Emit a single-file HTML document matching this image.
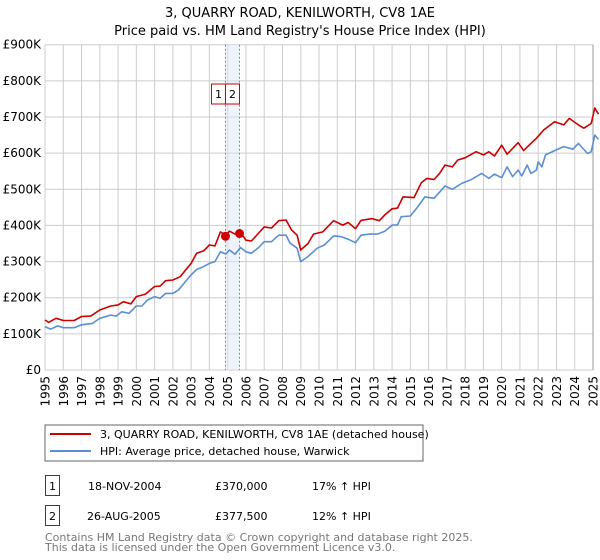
<!DOCTYPE html>
<html><head><meta charset="utf-8"><style>
body{margin:0;background:#fff;font-family:"DejaVu Sans","Liberation Sans",sans-serif;}
svg{display:block}
</style></head><body>
<svg id="c" width="600" height="560" xmlns="http://www.w3.org/2000/svg" font-family="DejaVu Sans, Liberation Sans, sans-serif">
<text x="300" y="17" text-anchor="middle" font-size="13">3, QUARRY ROAD, KENILWORTH, CV8 1AE</text>
<text x="300" y="35" text-anchor="middle" font-size="13">Price paid vs. HM Land Registry's House Price Index (HPI)</text>
<g id="grid"></g>
<g id="plot"></g>
<rect x="45" y="425" width="378" height="36" fill="#fff" stroke="#666"/>
<line x1="50" y1="434" x2="91" y2="434" stroke="#cc0000" stroke-width="2"/>
<text x="100" y="438" font-size="11">3, QUARRY ROAD, KENILWORTH, CV8 1AE (detached house)</text>
<line x1="50" y1="451" x2="91" y2="451" stroke="#5b8fd4" stroke-width="2"/>
<text x="100" y="455" font-size="11">HPI: Average price, detached house, Warwick</text>
<g font-size="11">
<rect x="45.5" y="475.5" width="14" height="20" fill="none" stroke="#cc0000"/>
<text x="52.5" y="490" text-anchor="middle">1</text>
<text x="88" y="490">18-NOV-2004</text><text x="215" y="490">£370,000</text><text x="312" y="490">17% ↑ HPI</text>
<rect x="45.5" y="505.5" width="14" height="20" fill="none" stroke="#cc0000"/>
<text x="52.5" y="520" text-anchor="middle">2</text>
<text x="87" y="520">26-AUG-2005</text><text x="215" y="520">£377,500</text><text x="312" y="520">12% ↑ HPI</text>
</g>
<text x="45" y="541" font-size="11" fill="#777">Contains HM Land Registry data © Crown copyright and database right 2025.</text>
<text x="45" y="551" font-size="11" fill="#777">This data is licensed under the Open Government Licence v3.0.</text>
</svg>
<script>
const yTicks=[0,100,200,300,400,500,600,700,800,900];
const yTickLabels=["£0","£100K","£200K","£300K","£400K","£500K","£600K","£700K","£800K","£900K"];
const xYears=[1995,1996,1997,1998,1999,2000,2001,2002,2003,2004,2005,2006,2007,2008,2009,2010,2011,2012,2013,2014,2015,2016,2017,2018,2019,2020,2021,2022,2023,2024,2025];
const hpiT=[1995.0,1995.3,1995.7,1996.0,1996.6,1997.0,1997.6,1998.0,1998.6,1998.9,1999.2,1999.6,2000.0,2000.3,2000.6,2001.0,2001.3,2001.6,2002.0,2002.3,2002.6,2003.0,2003.3,2003.6,2004.0,2004.3,2004.6,2004.9,2005.1,2005.4,2005.7,2006.0,2006.3,2006.7,2007.0,2007.4,2007.8,2008.2,2008.4,2008.8,2009.0,2009.4,2009.9,2010.3,2010.8,2011.2,2011.6,2012.0,2012.3,2012.8,2013.2,2013.6,2014.0,2014.3,2014.5,2015.0,2015.4,2015.8,2016.3,2016.9,2017.3,2017.8,2018.3,2018.9,2019.3,2019.6,2020.0,2020.3,2020.6,2020.9,2021.1,2021.4,2021.6,2021.9,2022.0,2022.2,2022.4,2022.9,2023.4,2023.9,2024.2,2024.7,2024.9,2025.1,2025.3];
const hpiV=[120,113,122,117,117,125,129,143,152,149,161,157,177,177,193,203,198,212,212,221,239,263,278,284,295,300,327,321,332,320,339,327,323,339,355,355,373,373,352,337,300,314,337,346,371,369,362,352,373,376,376,384,401,401,424,426,451,479,475,509,500,516,526,544,530,542,532,562,535,553,537,567,544,553,576,562,595,607,618,611,627,599,604,650,638];
const propT=[1995.0,1995.2,1995.6,1996.0,1996.6,1997.0,1997.5,1998.0,1998.6,1999.0,1999.3,1999.7,2000.0,2000.5,2001.0,2001.3,2001.6,2002.0,2002.4,2002.7,2003.0,2003.3,2003.7,2004.0,2004.3,2004.6,2004.9,2005.1,2005.4,2005.7,2006.0,2006.3,2006.7,2007.0,2007.4,2007.8,2008.2,2008.5,2008.8,2009.0,2009.4,2009.7,2010.2,2010.8,2011.3,2011.6,2012.0,2012.3,2012.9,2013.3,2013.6,2014.0,2014.3,2014.6,2015.2,2015.6,2015.9,2016.3,2016.6,2016.9,2017.3,2017.6,2018.0,2018.6,2019.0,2019.3,2019.6,2020.0,2020.3,2020.9,2021.2,2021.6,2021.9,2022.3,2022.9,2023.4,2023.7,2024.2,2024.5,2024.9,2025.1,2025.3];
const propV=[138,132,143,137,137,148,149,166,177,180,189,183,203,210,231,232,247,249,258,277,295,323,330,346,343,382,373,384,376,382,359,357,379,396,393,413,415,387,373,332,350,376,382,413,401,408,391,414,419,413,429,446,448,479,477,518,530,527,544,567,562,581,587,604,595,604,592,622,597,629,607,627,641,664,687,678,696,678,669,682,725,708];
const saleT=[2004.88,2005.65];
const saleV=[370,377.5];
const saleLabels=["1","2"];

const NS="http://www.w3.org/2000/svg";
const X0=45,X1=593,Y0=370,Y1=44.7;
const xs=t=>X0+(t-1995)/30*(X1-X0);
const ys=v=>Y0-v/900*(Y0-Y1);
function mk(tag,attrs,parent){const e=document.createElementNS(NS,tag);for(const k in attrs)e.setAttribute(k,attrs[k]);parent.appendChild(e);return e;}
const grid=document.getElementById('grid'),plot=document.getElementById('plot');
yTicks.forEach((v,i)=>{
  const l=mk('line',{x1:X0,x2:X1,y1:ys(v),y2:ys(v),stroke:'#ccc'},grid);
  
  
  const t=mk('text',{x:X0-4,y:ys(v)+4,'text-anchor':'end','font-size':'12'},grid);
  t.textContent=yTickLabels[i];
  
  
});
xYears.forEach(y=>{
  const l=mk('line',{x1:xs(y),x2:xs(y),y1:Y1,y2:Y0,stroke:'#ccc'},grid);
  
  
  const t=mk('text',{x:0,y:0,'text-anchor':'end','font-size':'12',transform:`translate(${xs(y)+4.5},${Y0+6}) rotate(-90)`},grid);
  t.textContent=y;
  
  
});
const axR=mk('line',{x1:X1,x2:X1,y1:Y1,y2:Y0,stroke:'#999'},grid);


const band=mk('rect',{x:xs(saleT[0]),y:Y1,width:xs(saleT[1])-xs(saleT[0]),height:Y0-Y1,fill:'#dde6f7','fill-opacity':'0.5'},plot);


saleT.forEach((t,i)=>{
  const l=mk('line',{x1:xs(t),x2:xs(t),y1:Y1,y2:Y0,stroke:'#e06060','stroke-dasharray':'2,2'},plot);
  
  
});
function path(T,V,color,name){
  const d=T.map((t,i)=>(i?'L':'M')+xs(t).toFixed(1)+','+ys(V[i]).toFixed(1)).join('');
  const p=mk('path',{d:d,fill:'none',stroke:color,'stroke-width':'1.6','stroke-linejoin':'round'},plot);
  
  
}
path(hpiT,hpiV,'#5b8fd4','hpi-line');
path(propT,propV,'#cc0000','property-line');
saleT.forEach((t,i)=>{
  const c=mk('circle',{cx:xs(t),cy:ys(saleV[i]),r:4.5,fill:'#cc0000'},plot);
  
  
});
const bx=[xs(saleT[0])-14,xs(saleT[0])];
saleLabels.forEach((s,i)=>{
  const r=mk('rect',{x:bx[i],y:84,width:14,height:20,fill:'#fff',stroke:'#cc0000'},plot);
  
  
  const t=mk('text',{x:bx[i]+7,y:98,'text-anchor':'middle','font-size':'11'},plot);
  t.textContent=s;
  
  
});
</script>
</body></html>
